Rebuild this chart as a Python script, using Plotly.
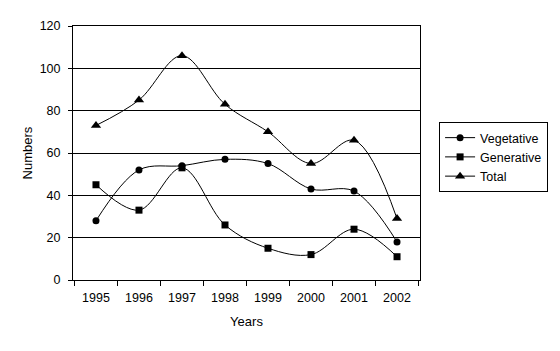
import plotly.graph_objects as go

years = ["1995", "1996", "1997", "1998", "1999", "2000", "2001", "2002"]
vegetative = [28, 52, 54, 57, 55, 43, 42, 18]
generative = [45, 33, 53, 26, 15, 12, 24, 11]
total = [73, 85, 106, 83, 70, 55, 66, 29]

fig = go.Figure()
series = [("Vegetative", vegetative, "circle", 7),
          ("Generative", generative, "square", 7),
          ("Total", total, "triangle-up", 9)]
for name, vals, sym, sz in series:
    fig.add_trace(go.Scatter(
        x=years, y=vals, name=name, mode="lines+markers",
        line=dict(color="black", width=1, shape="spline", smoothing=1),
        marker=dict(symbol=sym, color="black", size=sz),
    ))

fig.update_layout(
    width=560, height=351,
    margin=dict(l=73, r=120, t=26, b=71),
    paper_bgcolor="white", plot_bgcolor="white",
    font=dict(family="Liberation Sans, Arial", size=12, color="black"),
    legend=dict(x=1.055, y=0.622, xanchor="left", yanchor="top",
                bordercolor="black", borderwidth=1, bgcolor="white",
                font=dict(size=12.5), itemwidth=30, tracegroupgap=0),
    xaxis=dict(
        title=dict(text="Years", standoff=12, font=dict(size=13)),
        showline=True, linecolor="black", linewidth=1, mirror=True,
        ticks="outside", tickson="boundaries", ticklen=5, tickcolor="black",
        ticklabelstandoff=6, tickfont=dict(size=12.5),
        showgrid=False,
    ),
    yaxis=dict(
        title=dict(text="Numbers", standoff=4, font=dict(size=13)),
        range=[0, 120], dtick=20,
        showline=True, linecolor="black", linewidth=1, mirror=True,
        ticks="outside", ticklen=4, tickcolor="black",
        ticklabelstandoff=5, tickfont=dict(size=12.5),
        showgrid=True, gridcolor="black", gridwidth=1,
        zeroline=False,
    ),
)

fig.write_html("out.html")
